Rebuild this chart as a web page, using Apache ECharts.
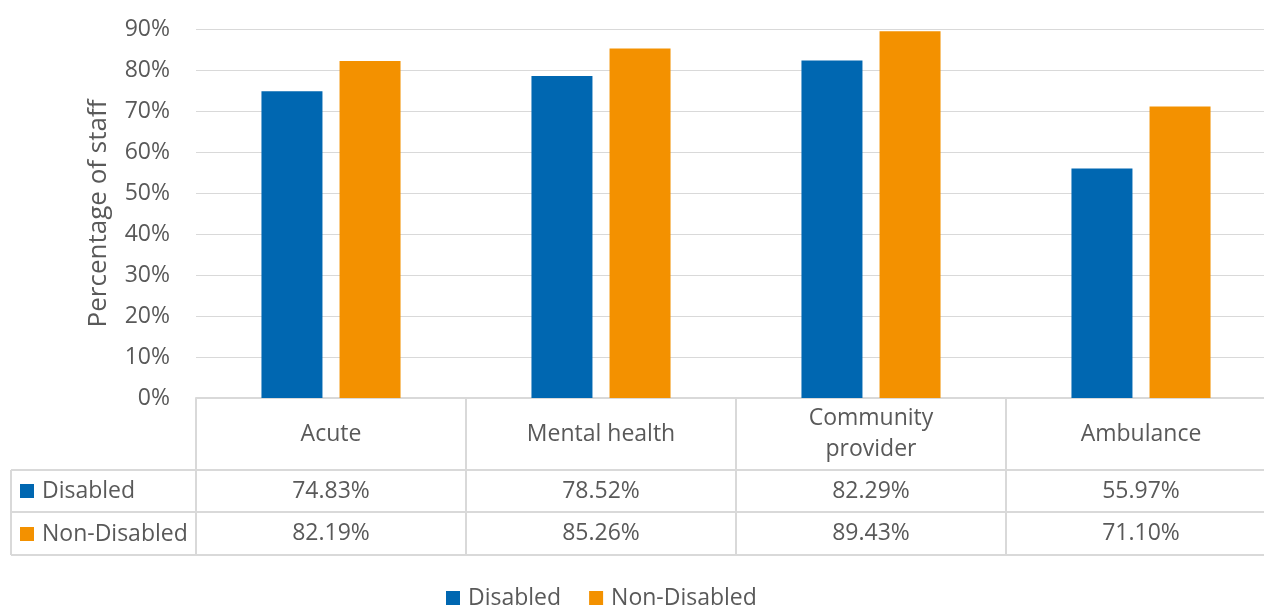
<!DOCTYPE html>
<html>
<head>
<meta charset="utf-8">
<script src="https://cdn.jsdelivr.net/npm/echarts@6/dist/echarts.min.js"></script>
<style>
  html, body { margin: 0; padding: 0; background: #fff; overflow: hidden; }
  #chart { width: 1276px; height: 605px; }
</style>
</head>
<body>
<div id="chart"></div>
<script>
// Staff percentages by trust type, disabled vs non-disabled
const categories = ['Acute', 'Mental health', 'Community\nprovider', 'Ambulance'];
const seriesNames = ['Disabled', 'Non-Disabled'];
const disabled = [74.83, 78.52, 82.29, 55.97];
const nonDisabled = [82.19, 85.26, 89.43, 71.10];
const yTicks = { min: 0, max: 90, interval: 10 };

const TEXT = '#595959';
const LINE = '#d9d9d9';
const FONT = '"Open Sans", sans-serif';
const FS = 23;
const BLUE = '#0067B1';
const ORANGE = '#F39100';

const fmt = v => v.toFixed(2) + '%';

// Category label doubles as the data-table column: header, then one row per series
function columnLabel(value, idx) {
  const parts = value.split('\n');
  let head;
  if (parts.length === 1) {
    head = '{h|' + parts[0] + '}';
  } else {
    head = '{h1|' + parts[0] + '}\n{h2|' + parts[1] + '}\n{sp| }';
  }
  return head + '\n{v1|' + fmt(disabled[idx]) + '}\n{v2|' + fmt(nonDisabled[idx]) + '}';
}

const chart = echarts.init(document.getElementById('chart'), null, { renderer: 'canvas' });

const GRID = { left: 196, top: 29, width: 1080, height: 369 };
const tableRows = [470, 512, 555];
const tableLeft = 11;
const tableRight = GRID.left + GRID.width;

const graphics = tableRows.map(y => ({
  type: 'line',
  shape: { x1: tableLeft, y1: y, x2: tableRight, y2: y },
  style: { stroke: LINE, lineWidth: 2 },
  silent: true
}));
graphics.push({
  type: 'line',
  shape: { x1: tableLeft, y1: tableRows[0], x2: tableLeft, y2: tableRows[2] },
  style: { stroke: LINE, lineWidth: 2 },
  silent: true
});

const legendText = { fontFamily: FONT, fontSize: FS, color: TEXT, lineHeight: 24, padding: [0, 0, 0, 3] };

chart.setOption({
  animation: false,
  backgroundColor: '#fff',
  textStyle: { fontFamily: FONT, color: TEXT },
  grid: GRID,
  legend: [
    {
      data: seriesNames,
      orient: 'horizontal',
      left: 446,
      top: 586,
      padding: 0,
      itemWidth: 14,
      itemHeight: 14,
      itemGap: 28,
      icon: 'rect',
      selectedMode: false,
      textStyle: legendText
    },
    {
      data: seriesNames,
      orient: 'vertical',
      left: 20,
      top: 479,
      padding: 0,
      itemWidth: 14,
      itemHeight: 14,
      itemGap: 19,
      icon: 'rect',
      selectedMode: false,
      textStyle: legendText
    }
  ],
  xAxis: {
    type: 'category',
    data: categories,
    axisLine: { show: true, lineStyle: { color: LINE, width: 2 } },
    axisTick: { show: true, interval: 0, length: 157, lineStyle: { color: LINE, width: 2 } },
    axisLabel: {
      interval: 0,
      margin: 0,
      color: TEXT,
      fontFamily: FONT,
      fontSize: FS,
      formatter: columnLabel,
      rich: {
        h: { fontSize: FS, fontFamily: FONT, color: TEXT, lineHeight: 72 },
        h1: { fontSize: FS, fontFamily: FONT, color: TEXT, lineHeight: 40 },
        h2: { fontSize: FS, fontFamily: FONT, color: TEXT, lineHeight: 22 },
        sp: { fontSize: 10, lineHeight: 10 },
        v1: { fontSize: FS, fontFamily: FONT, color: TEXT, lineHeight: 42 },
        v2: { fontSize: FS, fontFamily: FONT, color: TEXT, lineHeight: 43 }
      }
    },
    splitLine: { show: false }
  },
  yAxis: {
    type: 'value',
    min: yTicks.min,
    max: yTicks.max,
    interval: yTicks.interval,
    name: 'Percentage of staff',
    nameLocation: 'middle',
    nameGap: 84,
    nameRotate: 90,
    nameTextStyle: { fontFamily: FONT, fontSize: 26, color: TEXT },
    axisLine: { show: false },
    axisTick: { show: false },
    axisLabel: { formatter: '{value}%', margin: 26, fontFamily: FONT, fontSize: FS, color: TEXT },
    splitLine: { lineStyle: { color: LINE, width: 1 } }
  },
  series: [
    {
      name: seriesNames[0],
      type: 'bar',
      data: disabled,
      barWidth: 61,
      barGap: '28%',
      itemStyle: { color: BLUE }
    },
    {
      name: seriesNames[1],
      type: 'bar',
      data: nonDisabled,
      barWidth: 61,
      barGap: '28%',
      itemStyle: { color: ORANGE }
    }
  ],
  graphic: graphics
});
</script>
</body>
</html>
